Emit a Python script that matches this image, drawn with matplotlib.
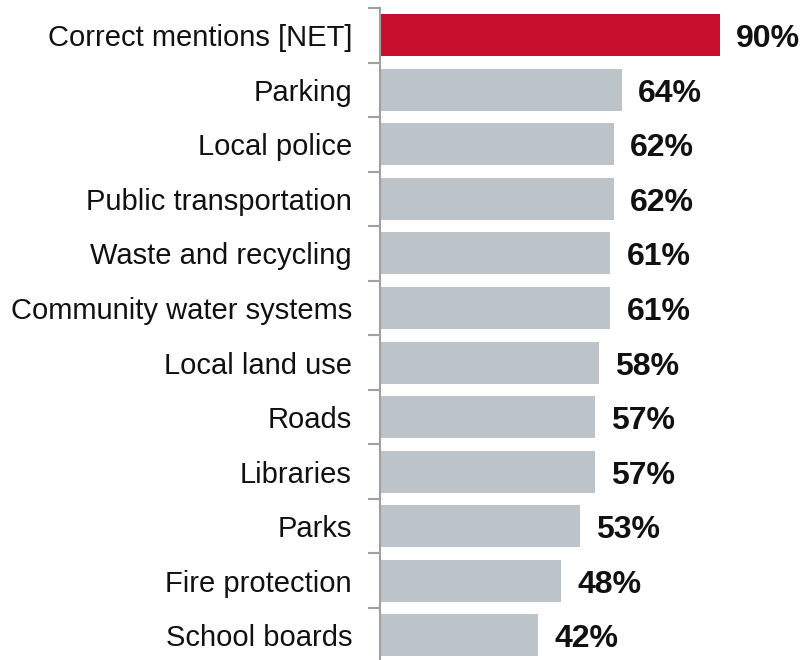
import matplotlib
matplotlib.use("Agg")
import matplotlib.pyplot as plt

categories = ["Correct mentions [NET]", "Parking", "Local police", "Public transportation",
              "Waste and recycling", "Community water systems", "Local land use", "Roads",
              "Libraries", "Parks", "Fire protection", "School boards"]
values = [90, 64, 62, 62, 61, 61, 58, 57, 57, 53, 48, 42]
highlight = "Correct mentions [NET]"

plt.rcParams["font.family"] = ["Liberation Sans", "DejaVu Sans"]

W, H = 801, 660
fig = plt.figure(figsize=(W / 100, H / 100), dpi=100)
# axes box in pixel units
left, right, top, bottom = 379.5, 758.0, 8.0, 662.5
ax = fig.add_axes([left / W, (H - bottom) / H, (right - left) / W, (bottom - top) / H])

n = len(categories)
ypos = list(range(n))
colors = ["#C8102E" if c == highlight else "#BCC3C9" for c in categories]
ax.barh(ypos, values, height=0.77, color=colors, zorder=2)

ax.set_ylim(n - 0.5, -0.5)
ax.set_xlim(0, 100)

for s in ["top", "right", "bottom"]:
    ax.spines[s].set_visible(False)
ax.spines["left"].set_color("#A0A0A0")
ax.spines["left"].set_linewidth(1.5)
ax.set_xticks([])

# category boundary ticks
ax.set_yticks([i - 0.5 for i in range(n + 1)], minor=False)
ax.set_yticklabels([])
ax.tick_params(axis="y", which="major", length=9, width=1.5, color="#A0A0A0", direction="out")
ax.set_yticks(ypos, minor=True)
ax.set_yticklabels(categories, minor=True, fontsize=21, color="#111111")
ax.tick_params(axis="y", which="minor", length=0, pad=19.8)

for y, v in zip(ypos, values):
    ax.annotate(f"{v}%", xy=(v, y), xytext=(16, -12), textcoords="offset pixels",
                ha="left", va="baseline", fontsize=23, fontweight="bold", color="#111111")

fig.savefig("out.png", dpi=100)
